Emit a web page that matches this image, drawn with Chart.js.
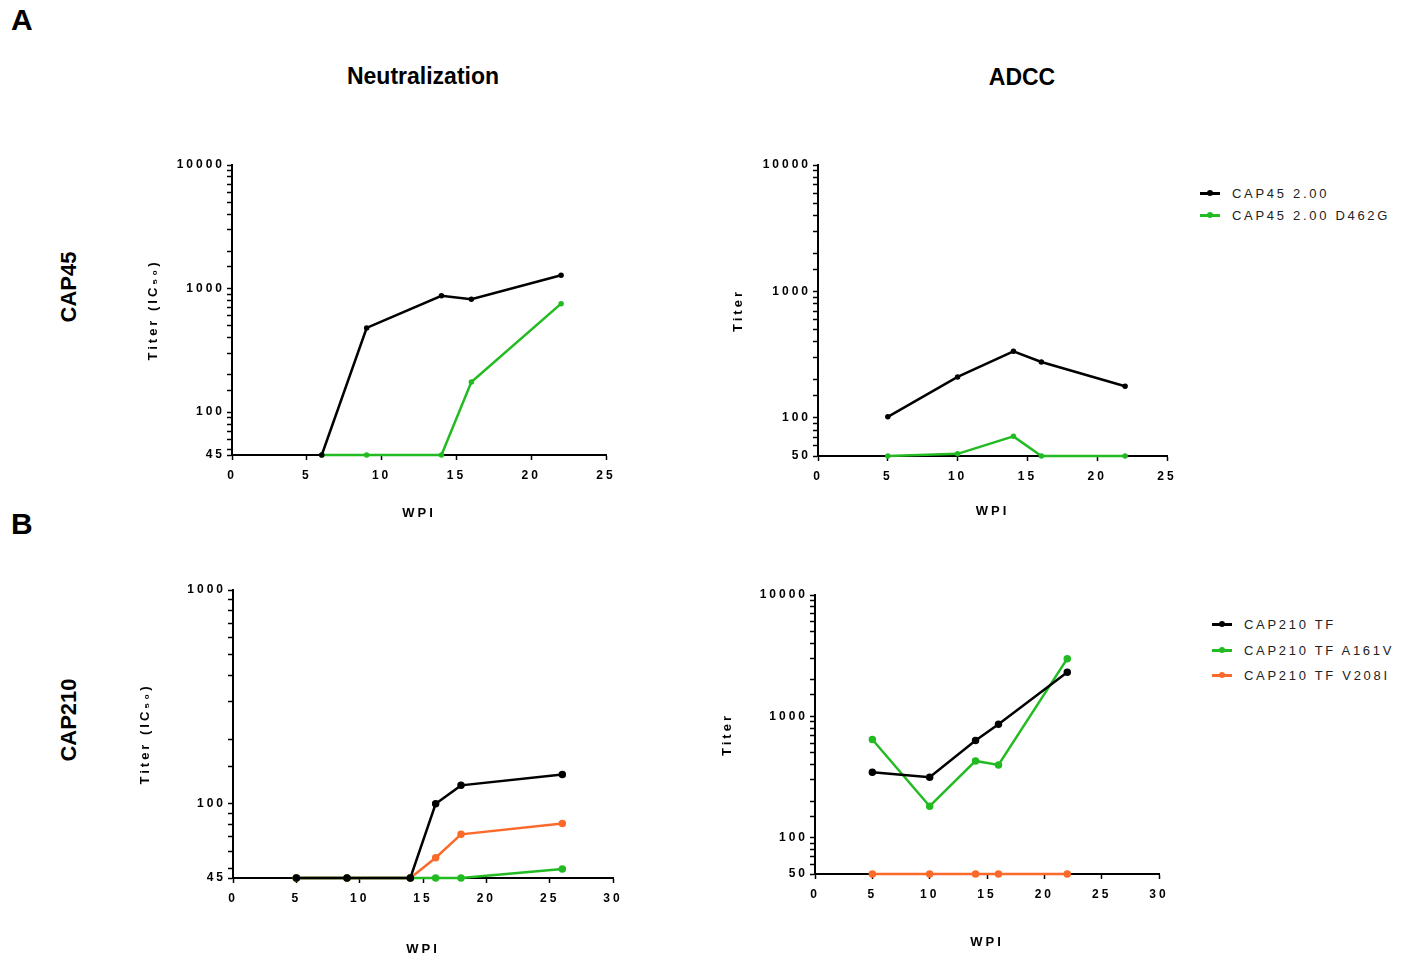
<!DOCTYPE html>
<html>
<head>
<meta charset="utf-8">
<script src="https://cdn.jsdelivr.net/npm/chart.js@4.4.1/dist/chart.umd.min.js"></script>
<style>
  body{margin:0;background:#fff;width:1412px;height:957px;position:relative;overflow:hidden;
       font-family:"Liberation Sans",Arial,Helvetica,sans-serif;color:#000}
  .panel{position:absolute}
  .lbl{position:absolute;font-weight:bold;white-space:nowrap}
  .rot{transform:translate(-50%,-50%) rotate(-90deg)}
  .ctr{transform:translate(-50%,-50%)}
  .legend{position:absolute;font-size:13px;letter-spacing:2.7px;color:#222}
  .legend div{height:25.5px;display:flex;align-items:center}
  .legend i{display:inline-block;width:20px;height:3px;margin-right:12px;position:relative}
  .legend i b{position:absolute;left:7px;top:-2px;width:6px;height:6px;border-radius:50%}
</style>
</head>
<body>
<div class="lbl" style="left:11px;top:3px;font-size:30px">A</div>
<div class="lbl" style="left:11px;top:507px;font-size:30px">B</div>
<div class="lbl ctr" style="left:423px;top:76px;font-size:23px">Neutralization</div>
<div class="lbl ctr" style="left:1022px;top:77px;font-size:23px">ADCC</div>
<div class="lbl rot" style="left:69px;top:287px;font-size:22px">CAP45</div>
<div class="lbl rot" style="left:69px;top:720px;font-size:22px">CAP210</div>

<canvas id="neut45" class="panel"></canvas>
<canvas id="adcc45" class="panel"></canvas>
<canvas id="neut210" class="panel"></canvas>
<canvas id="adcc210" class="panel"></canvas>

<div id="legend45" class="legend" style="left:1200px;top:182px"></div>
<div id="legend210" class="legend" style="left:1212px;top:612px"></div>

<script>
// ---- data ----
const names45 = ["CAP45 2.00", "CAP45 2.00 D462G"];
const names210 = ["CAP210 TF", "CAP210 TF A161V", "CAP210 TF V208I"];

const neutWeeks45 = [6, 9, 14, 16, 22];
const neutCap45 = [45, 480, 873, 820, 1282];
const neutCap45D462G = [45, 45, 45, 175, 755];

const adccWeeks45 = [5, 10, 14, 16, 22];
const adccCap45 = [102, 211, 336, 277, 178];
const adccCap45D462G = [50, 52, 71.5, 50, 50];

const neutWeeks210 = [5, 9, 14, 16, 18, 26];
const neutCap210 = [45, 45, 45, 100, 122, 137];
const neutCap210A161V = [45, 45, 45, 45, 45, 49.6];
const neutCap210V208I = [45, 45, 45, 56, 72, 81];

const adccWeeks210 = [5, 10, 14, 16, 22];
const adccCap210 = [345, 314, 630, 859, 2306];
const adccCap210A161V = [643, 181, 428, 397, 2985];
const adccCap210V208I = [50, 50, 50, 50, 50];

const neutTicks45 = [45, 100, 1000, 10000];
const adccTicks45 = [50, 100, 1000, 10000];
const neutTicks210 = [45, 100, 1000];
const adccTicks210 = [50, 100, 1000, 10000];

const BLACK = "#000000", GREEN = "#22bb22", ORANGE = "#fb6a2a";

Chart.defaults.font.family = '"Liberation Sans", Arial, Helvetica, sans-serif';
Chart.defaults.color = "#000";

const spacing = {
  id: "spacing",
  beforeDraw(chart){ chart.ctx.letterSpacing = "3px"; }
};

function pts(xs, ys){ return xs.map((x, i) => ({x, y: ys[i]})); }

function series(label, xs, ys, color, r){
  return {
    label, data: pts(xs, ys),
    borderColor: color, backgroundColor: color,
    borderWidth: 2.5, pointRadius: r, pointHoverRadius: r,
    tension: 0, clip: false
  };
}

// box: canvas position/size + axis band sizes
function makeChart(id, box, datasets, yMin, yMax, yTicks, xMax, yTitle){
  const el = document.getElementById(id);
  el.style.left = box.left + "px";
  el.style.top = box.top + "px";
  el.style.width = box.width + "px";
  el.style.height = box.height + "px";
  el.width = box.width; el.height = box.height;
  return new Chart(el, {
    type: "line",
    data: { datasets },
    plugins: [spacing],
    options: {
      responsive: false, animation: false,
      layout: { padding: { top: 20, right: 30, left: 0, bottom: 0 } },
      plugins: { legend: { display: false }, tooltip: { enabled: false } },
      scales: {
        x: {
          type: "linear", min: 0, max: xMax,
          border: { color: "#000", width: 2 },
          grid: { drawOnChartArea: false, color: "#000", tickLength: 5, tickWidth: 1.5 },
          ticks: { stepSize: 5, autoSkip: false, maxRotation: 0, padding: 8,
                   font: { size: 12, weight: "bold" } },
          title: { display: true, text: "WPI", padding: { top: 0, bottom: 0 },
                   font: { size: 13, weight: "bold" } },
          afterFit(s){ s.height = box.xBand; }
        },
        y: {
          type: "logarithmic", min: yMin, max: yMax,
          border: { color: "#000", width: 2 },
          grid: { drawOnChartArea: false, color: "#000", tickLength: 5, tickWidth: 1.5 },
          ticks: { autoSkip: false, padding: 2,
                   font: { size: 12, weight: "bold" },
                   callback: v => yTicks.includes(v) ? String(v) : "" },
          title: { display: true, text: yTitle, padding: { top: 0, bottom: 0 },
                   font: { size: 13, weight: "bold" } },
          afterFit(s){ s.width = box.yBand; }
        }
      }
    }
  });
}

makeChart("neut45",
  { left: 146, top: 145, width: 490, height: 376, yBand: 86, xBand: 66 },
  [ series(names45[0], neutWeeks45, neutCap45, BLACK, 1.5),
    series(names45[1], neutWeeks45, neutCap45D462G, GREEN, 1.5) ],
  45, 10000, neutTicks45, 25, "Titer (IC\u2085\u2080)");

makeChart("adcc45",
  { left: 731, top: 145, width: 466, height: 374, yBand: 87, xBand: 63 },
  [ series(names45[0], adccWeeks45, adccCap45, BLACK, 1.5),
    series(names45[1], adccWeeks45, adccCap45D462G, GREEN, 1.5) ],
  50, 10000, adccTicks45, 25, "Titer");

makeChart("neut210",
  { left: 138, top: 570, width: 505, height: 387, yBand: 95, xBand: 79 },
  [ series(names210[0], neutWeeks210, neutCap210, BLACK, 2.5),
    series(names210[1], neutWeeks210, neutCap210A161V, GREEN, 2.5),
    series(names210[2], neutWeeks210, neutCap210V208I, ORANGE, 2.5) ],
  45, 1000, neutTicks210, 30, "Titer (IC\u2085\u2080)");

makeChart("adcc210",
  { left: 720, top: 575, width: 469, height: 375, yBand: 95, xBand: 76 },
  [ series(names210[0], adccWeeks210, adccCap210, BLACK, 2.5),
    series(names210[1], adccWeeks210, adccCap210A161V, GREEN, 2.5),
    series(names210[2], adccWeeks210, adccCap210V208I, ORANGE, 2.5) ],
  50, 10000, adccTicks210, 30, "Titer");

// legends
function legend(id, names, colors){
  const box = document.getElementById(id);
  names.forEach((n, i) => {
    const row = document.createElement("div");
    row.innerHTML = `<i style="background:${colors[i]}"><b style="background:${colors[i]}"></b></i>${n}`;
    box.appendChild(row);
  });
}
legend("legend45", names45, [BLACK, GREEN]);
legend("legend210", names210, [BLACK, GREEN, ORANGE]);
document.querySelectorAll("#legend45 div").forEach(d => d.style.height = "22px");
</script>
</body>
</html>
